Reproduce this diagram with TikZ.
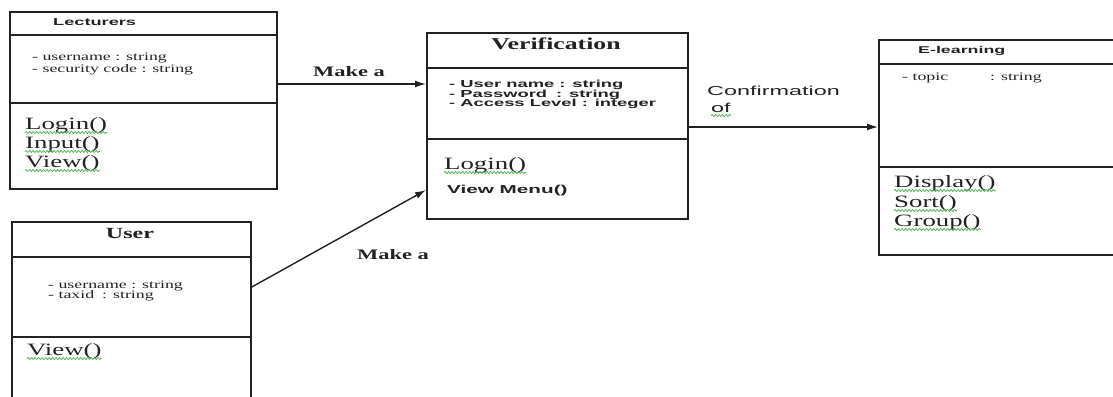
\documentclass[tikz,border=0pt]{standalone}
\usepackage{fontspec}
\setmainfont{Liberation Serif}
\newfontfamily\serifw{Liberation Serif}[FakeStretch=1.55]
\newfontfamily\sansw{Liberation Sans}[FakeStretch=1.8]
\usetikzlibrary{arrows.meta,decorations.pathmorphing}
\definecolor{ink}{HTML}{222222}
\definecolor{squiggle}{HTML}{44B044}
\tikzset{
  classbox/.style={draw=ink, line width=1.8pt, rectangle, inner sep=0pt, anchor=north west},
  divider/.style={draw=ink, line width=1.5pt},
  conn/.style={draw=ink, line width=1.4pt, -{Latex[length=11pt,width=7pt]}},
  txt/.style={inner sep=0pt, anchor=base west, text=ink},
  ctitle/.style={txt, font=\serifw\bfseries\fontsize{16.6}{18}\selectfont},
  stitle/.style={txt, font=\sansw\bfseries\fontsize{10.1}{12}\selectfont},
  sattr/.style={txt, font=\serifw\fontsize{11.5}{12}\selectfont},
  bsattr/.style={txt, font=\sansw\bfseries\fontsize{10.2}{11}\selectfont},
  meth/.style={txt, font=\serifw\fontsize{17.3}{19}\selectfont},
  label/.style={txt, font=\serifw\bfseries\fontsize{14.5}{16}\selectfont},
  slabel/.style={txt, font=\sansw\fontsize{13}{15}\selectfont},
  squig/.style={draw=squiggle, line width=0.7pt, decorate, decoration={snake, amplitude=1pt, segment length=3.5pt}}
}
\newcommand{\wavy}[1]{\draw[squig] ([yshift=-3.5pt]#1.base west) -- ([yshift=-3.5pt]#1.base east);}
\begin{document}
\begin{tikzpicture}[x=1pt,y=-1pt]
\useasboundingbox (0,0) rectangle (1113,396);

% class boxes
\node[classbox, minimum width=267pt, minimum height=177pt] (lect) at (9,11) {};
\node[classbox, minimum width=239pt, minimum height=195pt] (user) at (11,221) {};
\node[classbox, minimum width=261pt, minimum height=186pt] (ver) at (426,32) {};
\node[classbox, minimum width=250pt, minimum height=215pt] (elearn) at (878,39) {};

% dividers
\draw[divider] (9,35) -- (276,35);
\draw[divider] (9,103) -- (276,103);
\draw[divider] (11,257) -- (250,257);
\draw[divider] (11,337) -- (250,337);
\draw[divider] (426,68) -- (687,68);
\draw[divider] (426,139) -- (687,139);
\draw[divider] (878,64) -- (1128,64);
\draw[divider] (878,167) -- (1128,167);

% Lecturers
\node[stitle] (lectT) at (53,26) {Lecturers};
\node[sattr] (lectA1) at (32,61) {- username : string};
\node[sattr] (lectA2) at (32,72) {- security code : string};
\node[meth] (lectM1) at (25,129) {Login()};
\node[meth] (lectM2) at (25,148) {Input()};
\node[meth] (lectM3) at (25,167) {View()};
\wavy{lectM1}\wavy{lectM2}\wavy{lectM3}

% User
\node[ctitle, anchor=base, font=\serifw\bfseries\fontsize{15.5}{17}\selectfont] (userT) at (130,238) {User};
\node[sattr] (userA1) at (48,288) {- username : string};
\node[sattr] (userA2) at (48,298) {- taxid\hspace{8pt}: string};
\node[meth] (userM1) at (27,355) {View()};
\wavy{userM1}

% Verification
\node[ctitle, anchor=base] (verT) at (556,50) {Verification};
\node[bsattr] (verA1) at (449,88) {- User name : string};
\node[bsattr] (verA2) at (449,97) {- Password\hspace{9pt}: string};
\node[bsattr] (verA3) at (449,106) {- Access Level : integer};
\node[meth] (verM1) at (444,169) {Login()};
\node[txt, font=\sansw\bfseries\fontsize{11.5}{13}\selectfont] (verM2) at (447,193) {View Menu()};
\wavy{verM1}

% E-learning
\node[stitle, font=\sansw\bfseries\fontsize{9.9}{12}\selectfont] (elT) at (918,53) {E-learning};
\node[sattr] (elA1) at (902,80) {- topic};
\node[sattr] (elA1b) at (990,80) {: string};
\node[meth] (elM1) at (894,187) {Display()};
\node[meth] (elM2) at (894,207) {Sort()};
\node[meth] (elM3) at (894,226) {Group()};
\wavy{elM1}\wavy{elM2}\wavy{elM3}

% connectors
\draw[conn] ([yshift=-73pt]lect.north east) -- ([yshift=-52pt]ver.north west);
\draw[conn] ([yshift=-66pt]user.north east) -- ([yshift=-158pt]ver.north west);
\draw[conn] ([yshift=-95pt]ver.north east) -- ([yshift=-88pt]elearn.north west);

% connector labels
\node[label] (mk1) at (313,77) {Make a};
\node[label] (mk2) at (357,259) {Make a};
\node[slabel] (conf1) at (707,95) {Confirmation};
\node[slabel] (conf2) at (711,112) {of};
\wavy{conf2}
\end{tikzpicture}
\end{document}
